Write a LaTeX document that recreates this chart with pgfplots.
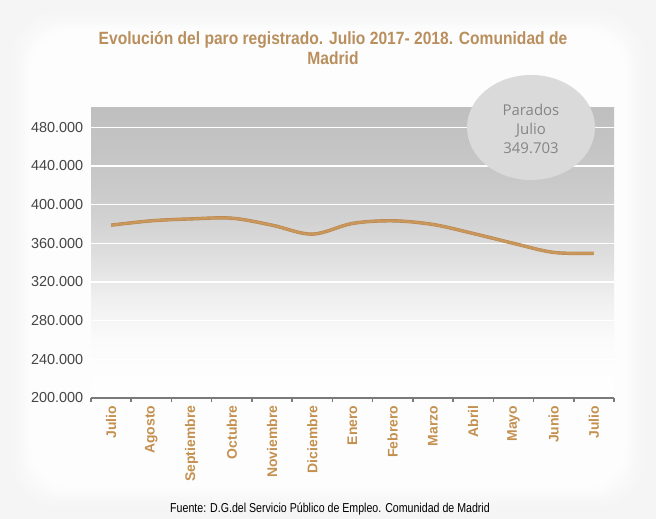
\documentclass[border=0pt]{standalone}
\usepackage{pgfplots}
\pgfplotsset{compat=1.18}
\usepackage{fontspec}
\setmainfont{Liberation Sans}
\newfontfamily\narrow[FakeStretch=0.82]{Liberation Sans}
\newfontfamily\titlefont[FakeStretch=0.88]{Liberation Sans}
\newfontfamily\bubble{Open Sans}
\definecolor{tanlab}{HTML}{C4904F}
\definecolor{titlec}{HTML}{B98F5E}
\definecolor{linec}{HTML}{C9965C}
\definecolor{lineedge}{HTML}{B8864D}
\definecolor{axisgray}{HTML}{7A7A7A}
\definecolor{bubblec}{HTML}{DADADA}
\definecolor{bubbletext}{HTML}{858585}
\definecolor{ylab}{HTML}{454545}
\definecolor{g1}{HTML}{FBFBFB}
\definecolor{g2}{HTML}{F0F0F0}
\definecolor{g3}{HTML}{E2E2E2}
\definecolor{g4}{HTML}{D3D3D3}
\definecolor{g5}{HTML}{C9C9C9}
\definecolor{g6}{HTML}{BFBFBF}
\pgfdeclareverticalshading{plotbg}{100bp}{color(0bp)=(white); color(25bp)=(white); color(35bp)=(g1); color(42bp)=(g2); color(48bp)=(g3); color(55bp)=(g4); color(62bp)=(g5); color(75bp)=(g6); color(100bp)=(g6)}
\begin{document}
\begin{tikzpicture}[x=1bp,y=1bp]
\fill[black!4] (0,0) rectangle (656,519);
\foreach \i in {0,...,7}{
  \pgfmathsetmacro\c{4-0.45*\i}
  \fill[black!\c,rounded corners=40bp] (10+3*\i,10+3*\i) rectangle (646-3*\i,509-3*\i);
}
\node[font=\titlefont\bfseries\fontsize{17.8}{20}\selectfont, text=titlec, align=center] at (333,471) {Evolución del paro registrado. Julio 2017- 2018. Comunidad de\\Madrid};
\begin{axis}[at={(91bp,121bp)}, anchor=south west, scale only axis,
  width=523bp, height=290bp,
  xmin=-0.5, xmax=12.5, ymin=200000, ymax=500000,
  axis background/.style={shading=plotbg},
  axis x line*=bottom, axis y line*=left,
  y axis line style={draw=none},
  x axis line style={draw=axisgray, line width=2bp},
  ytick={200000,240000,...,480000},
  scaled y ticks=false,
  ymajorgrids, major grid style={white, line width=1.2bp},
  ytick style={draw=none},
  yticklabel style={font=\fontsize{14.5}{16}\selectfont, text=ylab, /pgf/number format/.cd, fixed, 1000 sep={.}, assume math mode=true},
  xtick={0,...,12},
  xticklabels={Julio,Agosto,Septiembre,Octubre,Noviembre,Diciembre,Enero,Febrero,Marzo,Abril,Mayo,Junio,Julio},
  major x tick style={draw=none},
  minor xtick={-0.5,0.5,...,12.5},
  minor tick length=4bp, tick align=outside,
  minor x tick style={draw=axisgray, line width=1.5bp},
  xticklabel style={rotate=90, anchor=east, font=\bfseries\fontsize{14}{16}\selectfont, text=tanlab},
]
\addplot[lineedge, line width=3.4bp, smooth, tension=0.55] coordinates {(0,378800) (1,383300) (2,385300) (3,386000) (4,378800) (5,369500) (6,380600) (7,383300) (8,379500) (9,370200) (10,360000) (11,350600) (12,349703)};
\addplot[linec, line width=2.4bp, smooth, tension=0.55] coordinates {(0,378800) (1,383300) (2,385300) (3,386000) (4,378800) (5,369500) (6,380600) (7,383300) (8,379500) (9,370200) (10,360000) (11,350600) (12,349703)};
\end{axis}
\fill[bubblec] (531,391.5) ellipse [x radius=64, y radius=52.5];
\node[font=\bubble\fontsize{15}{19}\selectfont, text=bubbletext, align=center] at (531,390) {Parados\\Julio\\349.703};
\node[font=\narrow\fontsize{13}{14}\selectfont] at (330,10) {Fuente: D.G.del Servicio Público de Empleo. Comunidad de Madrid};
\end{tikzpicture}
\end{document}
